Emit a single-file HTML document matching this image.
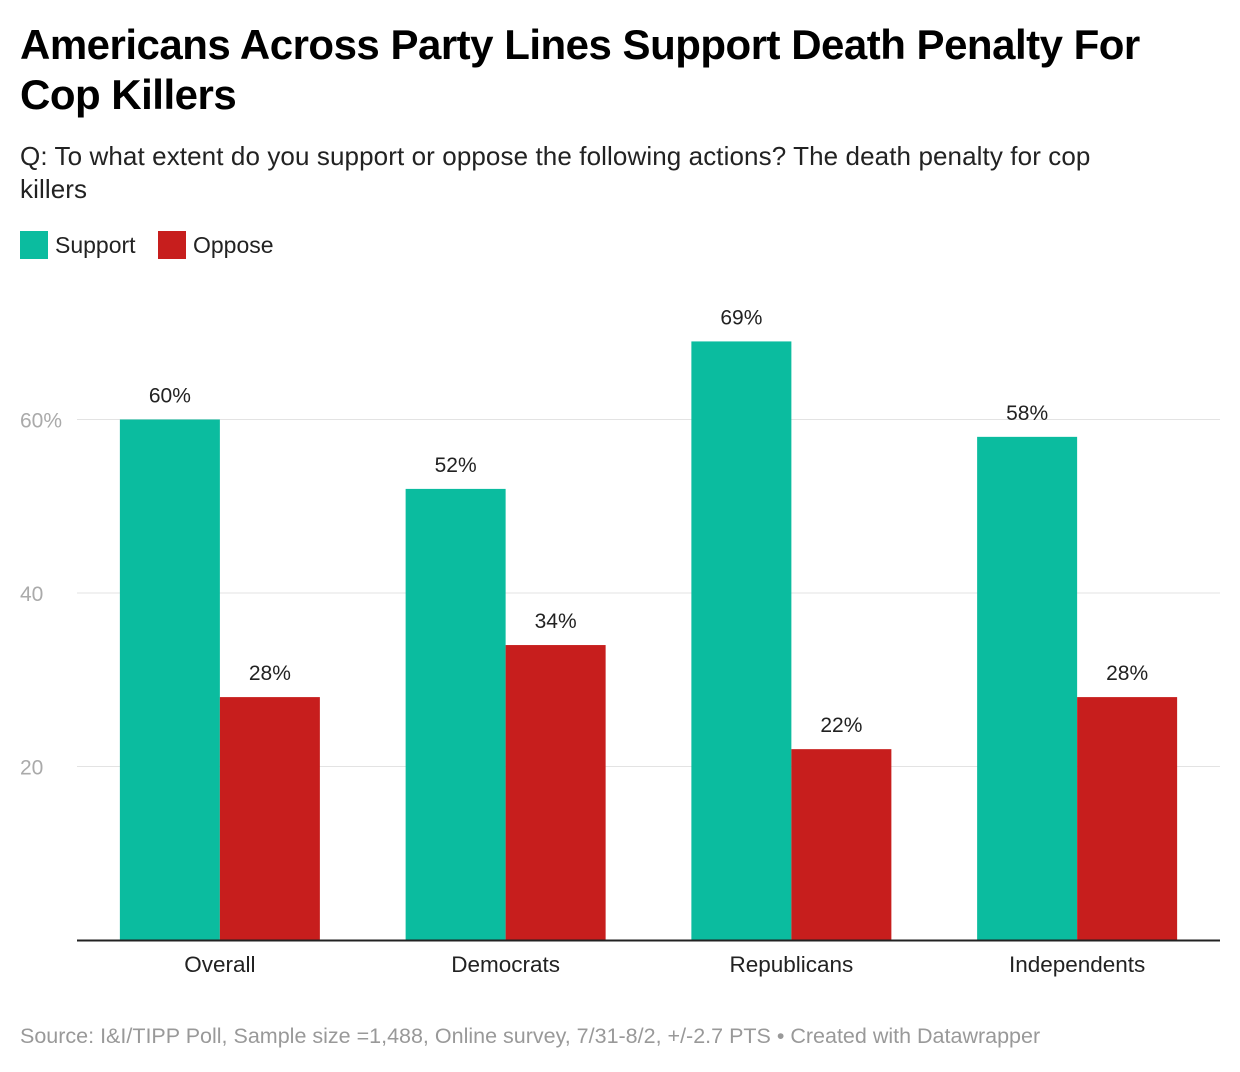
<!DOCTYPE html>
<html><head><meta charset="utf-8"><style>
body{margin:0;width:1240px;height:1072px;background:#fff;font-family:"Liberation Sans",Arial,sans-serif;position:relative;overflow:hidden}
.t{position:absolute;left:20px;top:20px;width:1160px;font-size:42px;font-weight:bold;line-height:50px;color:#000;letter-spacing:-0.5px}
.s{position:absolute;left:20px;top:140px;width:1200px;font-size:26px;line-height:33px;color:#222;letter-spacing:0.1px}
.lg{position:absolute;top:231px;font-size:23px;color:#222;display:flex;align-items:center}
.lg span{display:inline-block;width:28px;height:28px;margin-right:7px}
.src{position:absolute;left:20px;top:1024px;font-size:21.5px;color:#999;white-space:nowrap}
</style></head><body>
<div class="t">Americans Across Party Lines Support Death Penalty For<br>Cop Killers</div>
<div class="s">Q: To what extent do you support or oppose the following actions? The death penalty for cop<br>killers</div>
<div class="lg" style="left:20px"><span style="background:#0bbc9f"></span>Support</div>
<div class="lg" style="left:158px"><span style="background:#c71e1d"></span>Oppose</div>
<svg id="c" width="1240" height="1072" style="position:absolute;left:0;top:0"></svg>
<div class="src">Source: I&amp;I/TIPP Poll, Sample size =1,488, Online survey, 7/31-8/2, +/-2.7 PTS • Created with Datawrapper</div>
<script>
const categories=["Overall","Democrats","Republicans","Independents"];
const support=[60,52,69,58];
const oppose=[28,34,22,28];
const ticks=[20,40,60];
const tickLabels=["20","40","60%"];
const NS="http://www.w3.org/2000/svg";
const svg=document.getElementById('c');
const x0=77,x1=1220,base=940,pxPer=8.675;
const y=v=>base-v*pxPer;
const gw=(x1-x0)/categories.length;
const cx=i=>x0+gw*(i+0.5);
function mk(t,a){const e=document.createElementNS(NS,t);for(const k in a)e.setAttribute(k,a[k]);svg.appendChild(e);return e;}
ticks.forEach((t,i)=>{
  const g=mk('line',{x1:x0,x2:x1,y1:y(t),y2:y(t),stroke:'#e3e3e3','stroke-width':1});
  
  
  const l=mk('text',{x:20,y:y(t)+8,'font-size':21,fill:'#aaa','font-family':'Liberation Sans, Arial, sans-serif'});
  l.textContent=tickLabels[i];
  
  
});
function bar(v,x,color,name){
  const r=mk('rect',{x:x,y:y(v),width:100,height:v*pxPer,fill:color});
  
  
  const t=mk('text',{x:x+50,y:y(v)-17,'font-size':21,fill:'#222','text-anchor':'middle','font-family':'Liberation Sans, Arial, sans-serif'});
  t.textContent=v+'%';
  
  
}
categories.forEach((c,i)=>{
  bar(support[i],cx(i)-100,'#0bbc9f','bar-support-'+c.toLowerCase());
  bar(oppose[i],cx(i),'#c71e1d','bar-oppose-'+c.toLowerCase());
  const t=mk('text',{x:cx(i),y:972,'font-size':22.5,fill:'#222','text-anchor':'middle','font-family':'Liberation Sans, Arial, sans-serif'});
  t.textContent=c;
  
  
});
const b=mk('line',{x1:x0,x2:x1,y1:base+0.5,y2:base+0.5,stroke:'#222','stroke-width':2});


</script>
</body></html>
